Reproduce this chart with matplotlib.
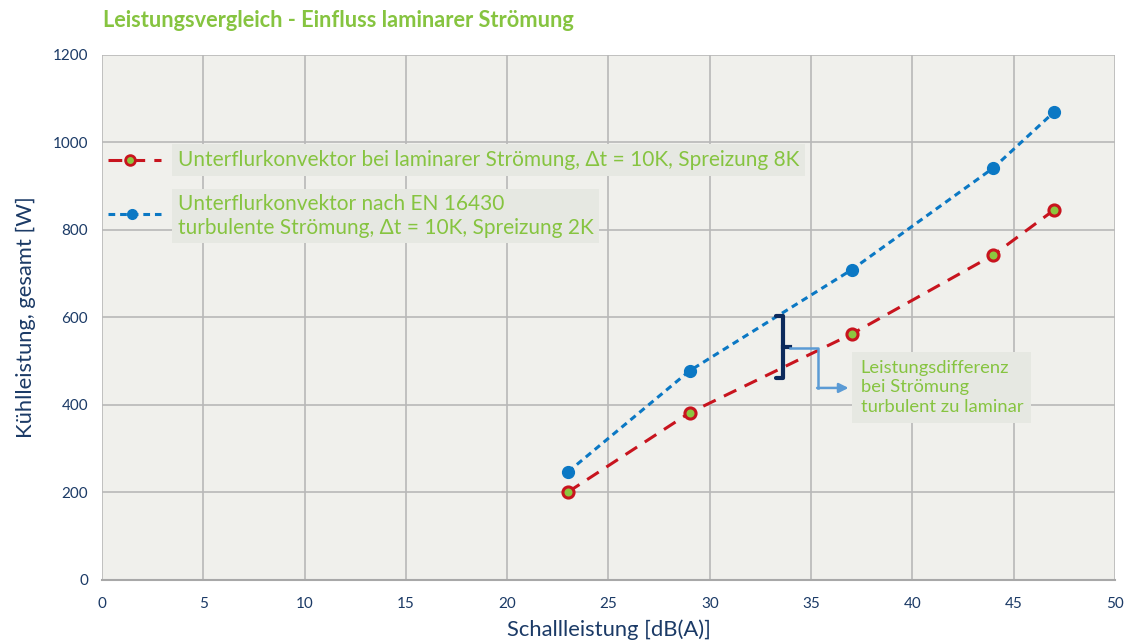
import matplotlib.pyplot as plt

# ============
#  DATA
# ============
schall = [23, 29, 37, 44, 47]
laminar = [201, 382, 562, 743, 846]
turbulent = [247, 478, 709, 942, 1070]

x_ticks = list(range(0, 51, 5))
y_ticks = list(range(0, 1201, 200))

label_lam = "Unterflurkonvektor bei laminarer Strömung, Δt = 10K, Spreizung 8K"
label_turb = "Unterflurkonvektor nach EN 16430\nturbulente Strömung, Δt = 10K, Spreizung 2K"
note = "Leistungsdifferenz\nbei Strömung\nturbulent zu laminar"

# ============
#  STYLE
# ============
GREEN = "#86c440"
NAVY = "#1b3a66"
RED = "#c8141e"
BLUE = "#0b78c4"
BG = "#f0f0ec"
BOX = "#e6e8e2"

plt.rcParams["font.family"] = ["Lato", "DejaVu Sans"]

fig = plt.figure(figsize=(11.29, 6.44), dpi=100)
ax = fig.add_axes([0.0903, 0.0994, 0.8973, 0.8152])
ax.set_facecolor(BG)

ax.set_xlim(0, 50)
ax.set_ylim(0, 1200)
ax.set_xticks(x_ticks)
ax.set_yticks(y_ticks)
ax.grid(True, color="#b8b8b8", linewidth=1.2)
ax.set_axisbelow(True)
for s in ["left", "top", "right"]:
    ax.spines[s].set_visible(False)
ax.spines["bottom"].set_color("#a8a8a8")
ax.spines["bottom"].set_linewidth(1.5)
ax.tick_params(length=0, labelsize=11, labelcolor=NAVY, pad=12)
ax.tick_params(axis="y", pad=10)

ax.set_xlabel("Schallleistung [dB(A)]", fontsize=15.8, color=NAVY, labelpad=6)
ax.set_ylabel("Kühlleistung, gesamt [W]", fontsize=15.8, color=NAVY, labelpad=12)

fig.text(0.091, 0.968, "Leistungsvergleich - Einfluss laminarer Strömung",
         fontsize=15.7, fontweight="bold", color=GREEN, va="center")

# series
ax.plot(schall, turbulent, color=BLUE, linewidth=2.2, dashes=(2.2, 1.6),
        marker="o", markersize=8.5, markerfacecolor=BLUE, markeredgecolor=BLUE, zorder=4)
ax.plot(schall, laminar, color=RED, linewidth=2.2, dashes=(4.5, 3),
        marker="o", markersize=8, markerfacecolor="#8cc63f", markeredgecolor=RED,
        markeredgewidth=2.2, zorder=5)

# hand-made legend
ax.plot([0.3, 2.9], [960, 960], color=RED, linewidth=2.2, dashes=(4.5, 3),
        clip_on=False)
ax.plot([1.4], [960], "o", markersize=7, markerfacecolor="#8cc63f",
        markeredgecolor=RED, markeredgewidth=2, clip_on=False)
ax.plot([0.3, 2.9], [836, 836], color=BLUE, linewidth=2.2, dashes=(2.2, 1.6),
        clip_on=False)
ax.plot([1.5], [836], "o", markersize=7, color=BLUE, clip_on=False)

ax.text(3.75, 960, label_lam, fontsize=15, color=GREEN, va="center",
        bbox=dict(facecolor=BOX, edgecolor="none", pad=4))
ax.text(3.75, 832, label_turb, fontsize=15, color=GREEN, va="center",
        linespacing=1.2, bbox=dict(facecolor=BOX, edgecolor="none", pad=4))

# bracket + arrow annotation
ax.plot([33.27, 33.61, 33.61, 33.27], [603, 603, 462, 462],
        color="#0c2a5c", linewidth=3, solid_capstyle="round", zorder=6)
ax.plot([33.61, 33.96], [533, 533], color="#0c2a5c", linewidth=3, zorder=6)
ax.plot([33.96, 35.34, 35.34], [530, 530, 439], color="#5b9bd5", linewidth=1.8, zorder=6)
ax.annotate("", xy=(36.85, 439), xytext=(35.3, 439),
            arrowprops=dict(arrowstyle="-|>", color="#5b9bd5", lw=1.8,
                            mutation_scale=14, shrinkA=0, shrinkB=0), zorder=6)
ax.text(37.45, 440, note, fontsize=13.2, color=GREEN, va="center",
        linespacing=1.25, bbox=dict(facecolor=BOX, edgecolor="none", pad=6))

fig.savefig("out.png", dpi=100, facecolor="white")
